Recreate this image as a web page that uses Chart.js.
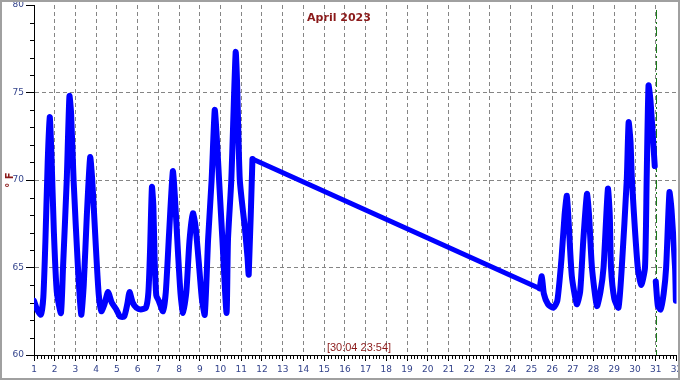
<!DOCTYPE html>
<html><head><meta charset="utf-8">
<script src="https://cdn.jsdelivr.net/npm/chart.js@4"></script>
<style>html,body{margin:0;padding:0;background:#fff}#wrap{width:680px;height:380px;position:relative}</style>
</head><body><div id="wrap"><canvas id="c" width="680" height="380"></canvas></div>
<script>
const chartTitle = 'April 2023';
const stampLabel = '[30:04 23:54]';
const yAxisLabel = '° F';
const xRange = [1, 32];
const yRange = [60, 80];
const markerDay = 31;

const dayTimes = [
  1.00, 1.15, 1.33, 1.45, 1.55, 1.66, 1.76, 1.84, 1.96, 2.10,
  2.30, 2.40, 2.58, 2.71, 2.79, 2.91, 3.12, 3.28, 3.40, 3.55,
  3.71, 3.81, 3.97, 4.12, 4.25, 4.40, 4.57, 4.75, 4.97, 5.15,
  5.35, 5.50, 5.61, 5.76, 5.94, 6.15, 6.40, 6.52, 6.60, 6.69,
  6.76, 6.82, 6.90, 7.02, 7.22, 7.36, 7.52, 7.70, 7.80, 7.95,
  8.07, 8.19, 8.35, 8.50, 8.67, 8.79, 8.95, 9.10, 9.24, 9.40,
  9.57, 9.72, 9.80, 9.93, 10.09, 10.29, 10.36, 10.52, 10.73, 10.80,
  10.93, 11.17, 11.30, 11.36, 11.54,
  25.40, 25.50, 25.60, 25.80, 26.06, 26.25, 26.45, 26.60, 26.71, 26.80,
  26.95, 27.19, 27.35, 27.50, 27.68, 27.78, 27.92, 28.16, 28.33, 28.48,
  28.69, 28.78, 28.84, 29.00, 29.20, 29.36, 29.60, 29.69, 29.78, 29.85,
  30.13, 30.30, 30.48, 30.56, 30.65, 30.74, 30.86, 30.95, 30.97, 31.00,
  31.10, 31.23, 31.38, 31.50, 31.66, 31.76, 31.93, 31.97
];
const tempsF = [
  63.1, 62.6, 62.3, 63.3, 66.5, 71.0, 73.6, 71.5, 67.0, 63.6,
  62.4, 65.0, 70.0, 74.8, 73.8, 70.0, 65.0, 62.3, 64.0, 68.0,
  71.3, 70.0, 66.5, 63.5, 62.5, 62.9, 63.6, 63.0, 62.6, 62.2,
  62.2, 62.9, 63.6, 63.0, 62.7, 62.6, 62.7, 63.6, 66.0, 69.6,
  68.5, 65.5, 63.4, 63.1, 62.5, 63.6, 67.0, 70.5, 69.0, 65.8,
  63.5, 62.4, 63.6, 66.5, 68.1, 67.4, 65.3, 63.2, 62.3, 66.6,
  70.0, 74.0, 72.8, 70.0, 66.6, 62.4, 66.6, 70.0, 77.3, 75.5,
  70.0, 67.3, 65.6, 64.6, 71.2,
  63.8, 64.5, 63.5, 62.9, 62.7, 63.1, 65.5, 68.0, 69.1, 67.5,
  64.5, 62.9, 63.6, 66.5, 69.2, 68.0, 65.0, 62.8, 63.6, 65.0,
  69.5, 68.0, 65.0, 63.2, 62.7, 65.0, 70.0, 73.3, 72.2, 70.0,
  65.0, 64.0, 65.0, 70.0, 75.4, 74.6, 72.5, 70.8, null, 64.2,
  62.8, 62.6, 63.5, 65.0, 69.3, 68.3, 65.0, 63.1
];

// Build curve points; long data gaps are drawn as straight connectors
const curvePts = [];
const connectors = [];
for (let i = 0; i < dayTimes.length; i++) {
  if (i > 0 && dayTimes[i] - dayTimes[i - 1] > 2) {
    curvePts.push({x: (dayTimes[i] + dayTimes[i - 1]) / 2, y: null});
    connectors.push({x: dayTimes[i - 1], y: tempsF[i - 1]}, {x: dayTimes[i], y: tempsF[i]});
  }
  curvePts.push({x: dayTimes[i], y: tempsF[i]});
}

const LINE = '#0000ff';
const GRID = '#858585';
const LBL = '#34448c';
const RED = '#8b1a1a';

const decor = {
  id: 'decor',
  beforeDraw(chart) {
    const ctx = chart.ctx;
    ctx.save();
    ctx.fillStyle = '#fff';
    ctx.fillRect(0, 0, chart.width, chart.height);
    ctx.restore();
  },
  beforeDatasetsDraw(chart) {
    const ctx = chart.ctx, xs = chart.scales.x, a = chart.chartArea;
    const px = Math.round(xs.getPixelForValue(markerDay)) + 0.5;
    ctx.save();
    ctx.strokeStyle = '#1a7a1a';
    ctx.lineWidth = 1;
    ctx.setLineDash([9, 3, 2, 3]);
    ctx.beginPath();
    ctx.moveTo(px, a.top + 5);
    ctx.lineTo(px, a.bottom);
    ctx.stroke();
    ctx.restore();
  },
  afterDraw(chart) {
    const ctx = chart.ctx, xs = chart.scales.x, ys = chart.scales.y, a = chart.chartArea;
    ctx.save();
    ctx.strokeStyle = '#000';
    ctx.lineWidth = 1;
    ctx.beginPath();
    for (let v = yRange[0]; v <= yRange[1]; v++) {
      if (v % 5 === 0) continue;
      const py = Math.round(ys.getPixelForValue(v)) + 0.5;
      ctx.moveTo(a.left - 4, py);
      ctx.lineTo(a.left, py);
    }
    for (let d = xRange[0]; d < xRange[1]; d++) {
      for (let k = 1; k < 6; k++) {
        const px = Math.round(xs.getPixelForValue(d + k / 6)) + 0.5;
        ctx.moveTo(px, a.bottom);
        ctx.lineTo(px, a.bottom + 4);
      }
    }
    ctx.stroke();
    ctx.fillStyle = RED;
    ctx.textAlign = 'center';
    ctx.textBaseline = 'middle';
    ctx.font = 'bold 11px "DejaVu Sans"';
    ctx.fillText(chartTitle, 339, 18);
    ctx.font = '11px "Liberation Sans"';
    ctx.fillText(stampLabel, 359, 348);
    ctx.strokeStyle = '#a0a0a0';
    ctx.lineWidth = 2;
    ctx.strokeRect(1, 1, chart.width - 2, chart.height - 2);
    ctx.restore();
  }
};

new Chart(document.getElementById('c'), {
  type: 'line',
  data: {
    datasets: [
      {data: curvePts, borderColor: LINE, borderWidth: 6, pointRadius: 0,
       tension: 0.2, borderJoinStyle: 'round', borderCapStyle: 'round', spanGaps: false},
      {data: connectors, borderColor: LINE, borderWidth: 5, pointRadius: 0,
       tension: 0, borderJoinStyle: 'round', borderCapStyle: 'round'}
    ]
  },
  options: {
    responsive: false,
    animation: false,
    devicePixelRatio: 1,
    parsing: false,
    layout: {padding: {top: 5, right: 3.5, left: 0, bottom: 0}},
    plugins: {legend: {display: false}, tooltip: {enabled: false}, title: {display: false}},
    scales: {
      x: {
        type: 'linear', min: xRange[0], max: xRange[1],
        ticks: {stepSize: 1, autoSkip: false, maxRotation: 0, color: LBL,
                font: {family: '"DejaVu Sans"', size: 9}, padding: 3},
        grid: {
          color: c => (c.tick && (c.tick.value === xRange[0] || c.tick.value === xRange[1])) ? 'rgba(0,0,0,0)' : GRID,
          tickColor: '#000', tickLength: 6, lineWidth: 1
        },
        border: {display: true, color: '#000', width: 1, dash: [4, 3]},
        afterFit: s => { s.height = 25; s.paddingLeft = 0; s.paddingRight = 0; }
      },
      y: {
        min: yRange[0], max: yRange[1],
        ticks: {stepSize: 5, color: LBL, font: {family: '"DejaVu Sans"', size: 9}, padding: 2},
        grid: {
          color: c => (c.tick && (c.tick.value === yRange[0] || c.tick.value === yRange[1])) ? 'rgba(0,0,0,0)' : GRID,
          tickColor: '#000', tickLength: 8, lineWidth: 1
        },
        border: {display: true, color: '#000', width: 1, dash: [4, 3]},
        title: {display: true, text: yAxisLabel, color: RED, font: {family: '"DejaVu Sans"', size: 10, weight: 'bold'}, padding: {top: 4}},
        afterFit: s => { s.width = 34; s.paddingTop = 0; s.paddingBottom = 0; }
      }
    }
  },
  plugins: [decor]
});
</script>
</body></html>
